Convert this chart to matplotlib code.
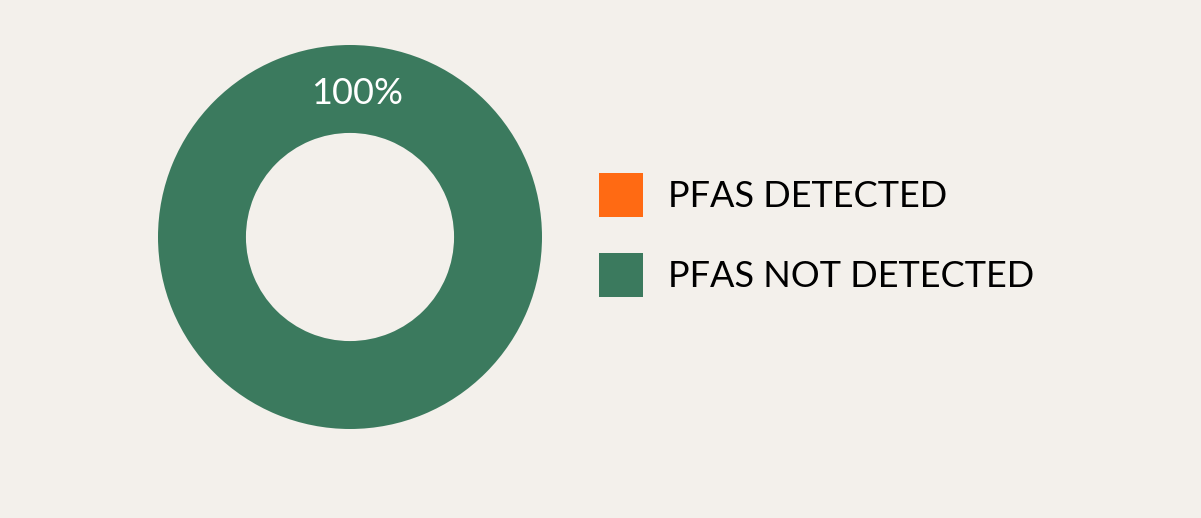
import matplotlib
matplotlib.use("Agg")
import matplotlib.pyplot as plt

categories = ["PFAS DETECTED", "PFAS NOT DETECTED"]
values = [0, 100]
colors = ["#ff6a13", "#3b7a5e"]

W, H = 1201, 518
fig = plt.figure(figsize=(W / 100, H / 100), dpi=100)
fig.patch.set_facecolor("#f3f0eb")

ax = fig.add_axes([158 / W, 89 / H, 384 / W, 384 / H])
ax.set_aspect("equal")
ax.axis("off")

wedges, texts, autotexts = ax.pie(
    values, colors=colors, radius=1.0, startangle=-93, counterclock=True,
    wedgeprops=dict(width=0.458, linewidth=0),
    autopct=lambda p: f"{p:.0f}%" if p > 0 else "",
    pctdistance=0.75,
    textprops=dict(color="white", fontsize=26, family="Lato"),
)
ax.set_xlim(-1, 1)
ax.set_ylim(-1, 1)

fs = 26
leg = fig.legend(
    wedges, categories, loc="center left",
    bbox_to_anchor=(599 / W, (H - 235) / H), frameon=False,
    prop=dict(family="Lato", size=fs),
    handlelength=1.22, handleheight=1.5, handletextpad=0.69,
    labelspacing=1.0, borderpad=0, borderaxespad=0,
)

fig.savefig("out.png", dpi=100, facecolor=fig.get_facecolor())
